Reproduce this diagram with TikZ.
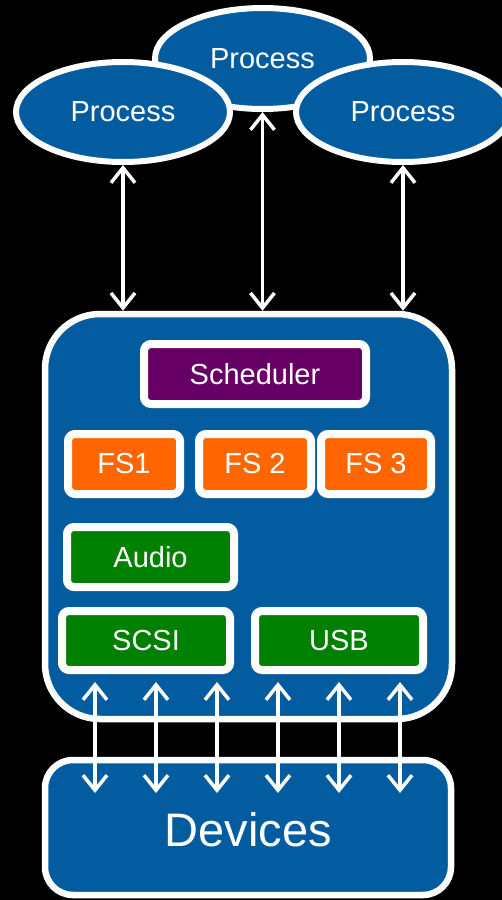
\documentclass[tikz,border=0pt]{standalone}
\usepackage{fontspec}
\setmainfont{Liberation Sans}
\usetikzlibrary{shapes.geometric,arrows.meta}
\definecolor{kblue}{RGB}{4,92,160}
\definecolor{kgreen}{RGB}{0,128,0}
\definecolor{korange}{RGB}{255,102,0}
\definecolor{kpurple}{RGB}{102,0,102}
\tikzset{
  proc/.style={ellipse, draw=white, line width=6pt, fill=kblue, text=white,
    minimum width=214pt, minimum height=100pt, inner sep=0pt,
    font=\fontsize{29}{31}\selectfont},
  kbox/.style={rectangle, rounded corners=7pt, draw=white, line width=8pt,
    text=white, minimum height=60pt, inner sep=0pt,
    font=\fontsize{29}{31}\selectfont},
  bigbox/.style={rectangle, draw=white, line width=6.5pt, fill=kblue, inner sep=0pt},
  dbl/.style={white, line width=3.5pt,
    {Straight Barb[length=15pt,width=24pt,line width=3.5pt]}-{Straight Barb[length=15pt,width=24pt,line width=3.5pt]}}
}
\begin{document}
\begin{tikzpicture}[x=1pt,y=-1pt]
\fill[black] (0,0) rectangle (502,900);
\useasboundingbox (0,0) rectangle (502,900);
\clip (0,0) rectangle (502,900);
% processes
\node[proc, minimum width=215pt, minimum height=101pt] (pm) at (262.5,58.5) {Process};
\node[proc] (pl) at (123,112) {Process};
\node[proc] (pr) at (403,112) {Process};
% kernel
\node[bigbox, rounded corners=55pt, minimum width=407pt, minimum height=405pt] (kern) at (248.5,516.5) {};
% arrows top
\draw[dbl] (pl.south) -- (pl.south |- kern.north);
\draw[dbl] (pm.south) -- (pm.south |- kern.north);
\draw[dbl] (pr.south) -- (pr.south |- kern.north);
% inner boxes
\node[kbox, fill=kpurple, minimum width=222pt] (sched) at (255,374) {Scheduler};
\node[kbox, fill=korange, minimum width=112pt] (fs1) at (124,464) {FS1};
\node[kbox, fill=korange, minimum width=112pt] (fs2) at (255,464) {FS 2};
\node[kbox, fill=korange, minimum width=110pt] (fs3) at (376,464) {FS 3};
\node[kbox, fill=kgreen, minimum width=167pt] (audio) at (150.5,557) {Audio};
\node[kbox, fill=kgreen, minimum width=168pt, minimum height=59pt] (scsi) at (146,640.5) {SCSI};
\node[kbox, fill=kgreen, minimum width=168pt, minimum height=59pt] (usb) at (339,640.5) {USB};
% devices
\node[bigbox, rounded corners=28pt, minimum width=406pt, minimum height=135pt] (dev) at (248,827.5) {};
\node[text=white, font=\fontsize{47}{50}\selectfont, inner sep=0pt] (devt) at (248.5,830) {Devices};
% bottom arrows
\foreach \i/\x in {1/95,2/156,3/217,4/278,5/339,6/400}{
  \coordinate (u\i) at (\x,682);
  \coordinate (v\i) at (\x,793);
  \draw[dbl] (u\i) -- (v\i);
}
\end{tikzpicture}
\end{document}
